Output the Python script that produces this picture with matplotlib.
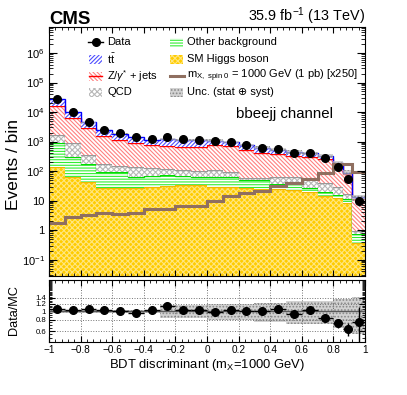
import numpy as np
import matplotlib
matplotlib.use("Agg")
import matplotlib.pyplot as plt
import matplotlib.ticker as ticker
from matplotlib.patches import Rectangle
from matplotlib.lines import Line2D

plt.rcParams['font.family'] = ['Liberation Sans', 'DejaVu Sans']
plt.rcParams['mathtext.fontset'] = 'custom'
plt.rcParams['mathtext.rm'] = 'Liberation Sans'
plt.rcParams['mathtext.it'] = 'Liberation Sans:italic'
plt.rcParams['mathtext.bf'] = 'Liberation Sans:bold'
plt.rcParams['hatch.linewidth'] = 0.8

# BDT bins (last three are narrower)
bin_edges = [-1.0, -0.9, -0.8, -0.7, -0.6, -0.5, -0.4, -0.3, -0.2, -0.1, 0.0,
             0.1, 0.2, 0.3, 0.4, 0.5, 0.6, 0.7, 0.8, 0.86, 0.92, 1.0]

data = [27500, 10200, 4700, 2450, 1900, 1380, 1180, 1380, 1180, 1120, 1070,
        960, 760, 600, 545, 415, 415, 275, 140, 54, 9.8]

# stack components, bottom to top
sm_higgs = [134, 64, 43, 26, 26, 26, 28, 31, 34, 35, 29,
            29, 26, 25, 25, 23, 20, 14, 12, 8, 0.37]
other_bkg = [740, 240, 130, 70, 70, 38, 40, 42, 36, 30, 35,
             35, 23, 24, 11, 13, 6, 5, 4, 3, 0.38]
qcd = [780, 565, 180, 78, 53, 76, 55, 41, 38, 38, 44,
       31, 10, 10, 28, 28, 26, 19, 12, 6, 0.2]
zjets = [14500, 5200, 2450, 1400, 1000, 770, 640, 610, 560, 560, 650,
         600, 460, 360, 310, 260, 250, 210, 130, 63, 10]
ttbar = [11000, 3900, 1700, 870, 700, 510, 370, 490, 500, 440, 320,
         260, 245, 205, 155, 130, 95, 75, 32, 8, 2]

signal_x250 = [1.7, 2.8, 3.2, 3.9, 3.4, 3.9, 5.0, 5.0, 6.5, 6.5, 9.8,
               14, 17.5, 21.5, 31, 38, 56, 88, 180, 180, 95]

ratio = [1.05, 1.04, 1.05, 1.02, 1.00, 0.96, 1.04, 1.13, 1.02, 1.02, 0.98,
         1.02, 1.00, 1.00, 1.05, 0.94, 1.03, 0.84, 0.73, 0.63, 0.75]
ratio_err = [0.01, 0.015, 0.02, 0.025, 0.03, 0.03, 0.035, 0.035, 0.035, 0.035, 0.035,
             0.035, 0.04, 0.045, 0.05, 0.05, 0.08, 0.08, 0.08, 0.1, 0.35]
mc_unc = [0.04, 0.04, 0.04, 0.04, 0.04, 0.04, 0.04, 0.16, 0.16, 0.16, 0.2,
          0.2, 0.2, 0.24, 0.24, 0.28, 0.28, 0.28, 0.35, 0.38, 0.45]

edges = np.array(bin_edges)
centers = 0.5 * (edges[1:] + edges[:-1])
halfw = 0.5 * np.diff(edges)

W, H = 407, 395
def fx(px):
    return px / W
def fy(py):
    return 1 - py / H

fig = plt.figure(figsize=(W / 100, H / 100), dpi=100)
ax = fig.add_axes([fx(49), fy(275.5), fx(365) - fx(49), fy(27) - fy(275.5)])
rax = fig.add_axes([fx(49), fy(342), fx(365) - fx(49), fy(280) - fy(342)])

HIGGS = ('#ffcc00', '#ffe680', 'xxxxxx', '#f2b600')
OTHER = ('white', '#33ee33', '------', '#00dd00')
QCD = ('white', '#b8b8b8', 'xxxxxx', '#999999')
ZJ = ('white', '#ff8080', '\\' * 8, '#ff0000')
TT = ('white', '#4d4dff', '/' * 8, '#0000ff')

layers = [(sm_higgs, HIGGS), (other_bkg, OTHER), (qcd, QCD), (zjets, ZJ), (ttbar, TT)]
low = np.full(len(data), 1e-3)
for vals, (face, hcol, hatch, lcol) in layers:
    high = low + np.array(vals)
    ax.stairs(high, edges, baseline=low, fill=True, facecolor=face,
              edgecolor=hcol, hatch=hatch, lw=0)
    ax.stairs(high, edges, baseline=None, color=lcol, lw=1)
    low = high
total = low
unc = np.array(mc_unc)

UNC = dict(facecolor=(0.75, 0.75, 0.75, 0.7), edgecolor='#888888', hatch='.....', lw=0)
ax.stairs(total * (1 + unc * 0.5), edges, baseline=total * (1 - unc * 0.5), fill=True, **UNC)
ax.stairs(signal_x250, edges, baseline=None, color='#8f6f60', lw=2.2)
ax.errorbar(centers, data, yerr=np.sqrt(data), fmt='o', color='k', ms=5.5,
            elinewidth=1, capsize=0)

ax.set_xlim(-1, 1)
ax.set_yscale('log')
ax.set_ylim(0.029, 7.6e6)

def pow_fmt(v, pos):
    e = int(round(np.log10(v)))
    if e == 0:
        return '1'
    if e == 1:
        return '10'
    return '$10^{%d}$' % e

ax.yaxis.set_major_locator(ticker.LogLocator(base=10, numticks=20))
ax.yaxis.set_minor_locator(ticker.LogLocator(base=10, subs=np.arange(2, 10), numticks=20))
ax.yaxis.set_major_formatter(ticker.FuncFormatter(pow_fmt))
ax.yaxis.set_minor_formatter(ticker.NullFormatter())
ax.xaxis.set_major_locator(ticker.MultipleLocator(0.2))
ax.xaxis.set_minor_locator(ticker.MultipleLocator(0.04))
ax.tick_params(which='both', direction='in', top=True, right=True, labelbottom=False)
ax.tick_params(axis='y', which='major', length=6, width=0.8, labelsize=8, pad=3)
ax.tick_params(axis='y', which='minor', length=3, width=0.6)
ax.tick_params(axis='x', which='major', length=4, width=0.8)
ax.tick_params(axis='x', which='minor', length=2, width=0.6)

# ratio panel (log scale)
rax.stairs(1 + unc, edges, baseline=1 - unc, fill=True, **UNC)
rax.axhline(1, color='0.35', lw=1)
rax.errorbar(centers, ratio, yerr=ratio_err, xerr=halfw, fmt='o', color='k', ms=5.5,
             elinewidth=1, capsize=0)
rax.set_xlim(-1, 1)
rax.set_yscale('log')
rax.set_ylim(0.453, 2.22)
rax.yaxis.set_major_locator(ticker.FixedLocator([0.6, 0.8, 1.0, 1.2, 1.4]))
rax.yaxis.set_minor_locator(ticker.FixedLocator(np.arange(0.5, 2.2, 0.05)))
rax.yaxis.set_major_formatter(ticker.FuncFormatter(lambda v, p: '%g' % round(v, 2)))
rax.yaxis.set_minor_formatter(ticker.NullFormatter())
rax.xaxis.set_major_locator(ticker.MultipleLocator(0.2))
rax.xaxis.set_minor_locator(ticker.MultipleLocator(0.04))
rax.xaxis.set_major_formatter(ticker.FuncFormatter(
    lambda v, p: ('%g' % round(v, 2)).replace('-', '\u2212')))
rax.grid(True, which='major', ls=':', color='0.45', lw=0.7)
rax.tick_params(which='both', direction='in', top=True, right=True, pad=2)
rax.tick_params(axis='x', labelsize=7.2)
rax.tick_params(axis='y', labelsize=5.6)
rax.tick_params(which='major', length=4, width=0.8)
rax.tick_params(which='minor', length=2, width=0.6)

# legend, drawn by hand
def box(x0, yc, style):
    face, hcol, hatch, _ = style
    fig.add_artist(Rectangle((fx(x0), fy(yc + 4.5)), fx(13), 9 / H, facecolor=face,
                             edgecolor=hcol, hatch=hatch, lw=0,
                             transform=fig.transFigure))

fig.add_artist(Line2D([fx(88), fx(103)], [fy(42), fy(42)], color='k', lw=1,
                      transform=fig.transFigure))
fig.add_artist(Line2D([fx(95.5)], [fy(42)], marker='o', ms=5.5, color='k',
                      transform=fig.transFigure))
box(89, 59, TT)
box(89, 76, ZJ)
fig.add_artist(Line2D([fx(89), fx(102)], [fy(76), fy(76)], color='#ff0000', lw=1,
                      transform=fig.transFigure))
box(89, 92, QCD)
box(170, 42, OTHER)
box(170, 59, HIGGS)
fig.add_artist(Line2D([fx(170), fx(184)], [fy(76), fy(76)], color='#8f6f60', lw=2.2,
                      transform=fig.transFigure))
fig.add_artist(Rectangle((fx(170), fy(96.5)), fx(13), 9 / H, transform=fig.transFigure, **UNC))

col1 = ['Data', r'$\mathrm{t\bar{t}}$', r'Z/$\gamma^{*}$ + jets', 'QCD']
col2 = ['Other background', 'SM Higgs boson',
        r'$\mathrm{m_{X,\ spin\ 0}}$ = 1000 GeV (1 pb) [x250]', 'Unc. (stat \u2295 syst)']
for i, yy in enumerate([42, 59, 76, 92]):
    fig.text(fx(107), fy(yy), col1[i], fontsize=8, va='center')
    fig.text(fx(187), fy(yy), col2[i], fontsize=8, va='center')

fig.text(fx(49), fy(24), 'CMS', fontsize=13.4, weight='bold', va='baseline')
fig.text(fx(365), fy(20.7), r'35.9 fb$^{-1}$ (13 TeV)', fontsize=10.4,
         ha='right', va='baseline')
fig.text(fx(235.7), fy(118), 'bbeejj channel', fontsize=10.8, va='baseline')
fig.text(fx(14), fy(165), 'Events / bin', fontsize=12.5, rotation=90,
         ha='center', va='center')
fig.text(fx(14), fy(310), 'Data/MC', fontsize=9.2, rotation=90, ha='center', va='center')
fig.text(fx(207), fy(368), r'BDT discriminant (m$_{\mathrm{X}}$=1000 GeV)', fontsize=9.4,
         ha='center', va='baseline')

fig.savefig('out.png', dpi=100)
